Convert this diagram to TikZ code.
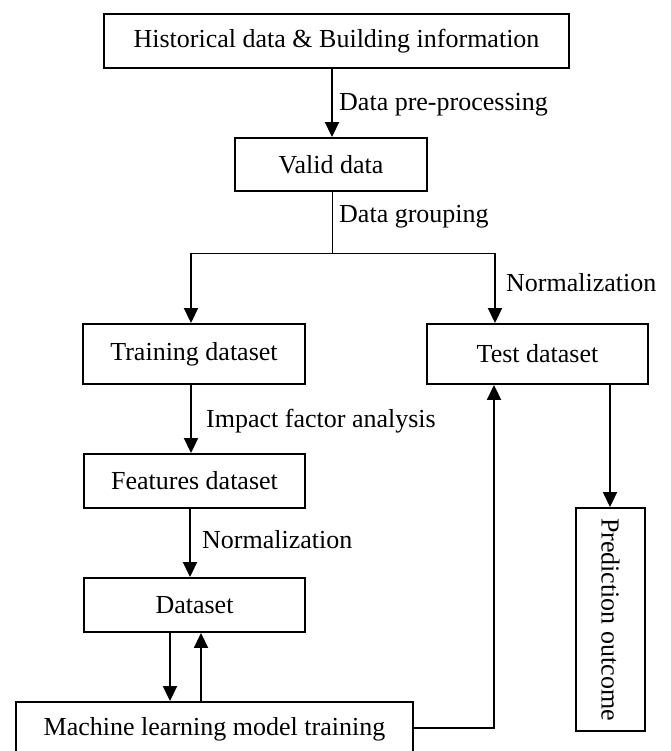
\documentclass[tikz,border=0pt]{standalone}
\usepackage{fontspec}
\setmainfont{Liberation Serif}
\usetikzlibrary{arrows.meta}
\begin{document}
\begin{tikzpicture}[x=1pt,y=-1pt,
  box/.style={draw, line width=1.9pt, inner sep=0pt, align=center, font=\fontsize{26}{30}\selectfont},
  lbl/.style={anchor=west, inner sep=0pt, font=\fontsize{26}{30}\selectfont},
  arr/.style={line width=1.9pt, -{Triangle[length=15pt,width=14pt]}},
  thinline/.style={line width=1pt}]
\useasboundingbox (0,0) rectangle (670,751);
\node[box, minimum width=465pt, minimum height=54pt] (top) at (336.5,41) {Historical data \& Building information};
\node[box, minimum width=192pt, minimum height=53pt] (valid) at (331,164.5) {Valid data};
\node[box, minimum width=222pt, minimum height=60pt] (training) at (194,354) {Training dataset};
\node[box, minimum width=221pt, minimum height=60pt] (test) at (537.5,354) {Test dataset};
\node[box, minimum width=221pt, minimum height=54pt] (features) at (194.5,481) {Features dataset};
\node[box, minimum width=221pt, minimum height=54pt] (dataset) at (194.5,605) {Dataset};
\node[box, minimum width=397pt, minimum height=54pt] (ml) at (214.5,729) {Machine learning model training};
\node[box, rotate=-90, minimum width=223pt, minimum height=69pt] (pred) at (610.5,619.5) {Prediction outcome};

% coordinates
\coordinate (a1) at (332,0);
\coordinate (tl) at (191,253);
\coordinate (tr) at (495,253);
\coordinate (split) at (332,253);
\coordinate (c2) at (190,0);
\coordinate (dn) at (170,0);
\coordinate (up) at (201,0);
\coordinate (mlr) at (494,728);
\coordinate (tp) at (610,0);

\draw[arr] (a1 |- top.south) -- (a1 |- valid.north);
\draw[thinline] (split |- valid.south) -- (split);
\draw[thinline] (tl) -- (tr);
\draw[arr] ([yshift=0.5pt]tl) -- (tl |- training.north);
\draw[arr] ([yshift=0.5pt]tr) -- (tr |- test.north);
\draw[arr] (tl |- training.south) -- (tl |- features.north);
\draw[arr] (c2 |- features.south) -- (c2 |- dataset.north);
\draw[arr] (dn |- dataset.south) -- (dn |- ml.north);
\draw[arr] (up |- ml.north) -- (up |- dataset.south);
\draw[arr] (ml.east |- mlr) -- (mlr) -- (mlr |- test.south);
\draw[arr] (tp |- test.south) -- (tp |- pred.west);

\node[lbl] (l1) at (339,105) {Data pre-processing};
\node[lbl] (l2) at (339,217) {Data grouping};
\node[lbl] (l3) at (506,283) {Normalization};
\node[lbl] (l4) at (206,421) {Impact factor analysis};
\node[lbl] (l5) at (202,540) {Normalization};
\end{tikzpicture}
\end{document}
